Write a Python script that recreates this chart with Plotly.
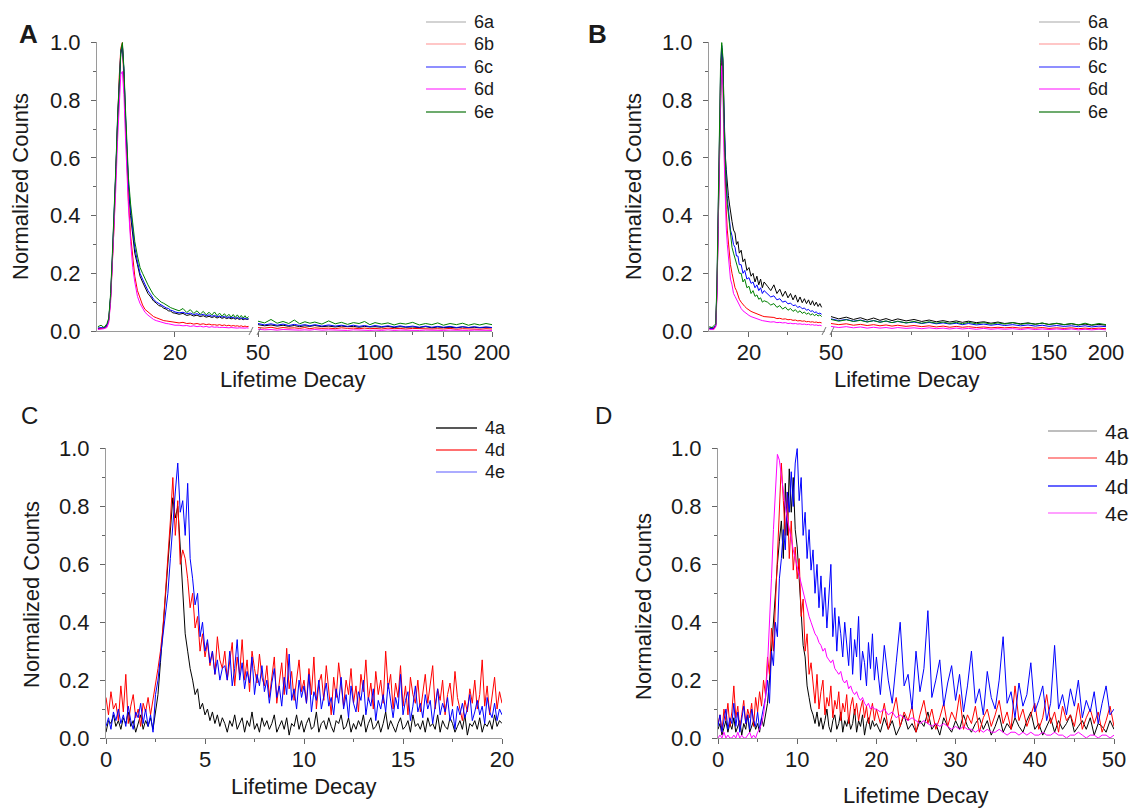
import numpy as np
import plotly.graph_objects as go

# ---------------- panel A / B (6a-6e), split log x axis ----------------
series6 = ['6a', '6b', '6c', '6d', '6e']

xa_left = [8, 8.3, 8.6, 8.9, 9.1, 9.3, 9.5, 9.7, 9.9, 10.1, 10.3, 10.5, 10.7, 10.9, 11.1, 11.3, 11.5, 11.8,
           12.1, 12.4, 12.8, 13.2, 13.6, 14, 14.5, 15, 15.5, 16, 16.5, 17, 17.5, 18, 18.5, 19, 19.5, 20,
           21, 22, 23, 24, 25, 26, 27, 28, 29, 30, 31, 32, 33, 34, 35, 36, 37, 38, 39, 40, 41, 42, 43, 44,
           45, 46, 47, 48]
x_right = [50, 52, 54, 56, 58, 60, 62, 64, 66, 68, 70, 73, 76, 79, 82, 85, 88, 91, 94, 97, 100, 104, 108,
           112, 116, 120, 125, 130, 135, 140, 145, 150, 156, 162, 168, 174, 180, 186, 193, 200]

a_6a_left = [0.01, 0.008, 0.012, 0.02, 0.04, 0.12, 0.25, 0.38, 0.55, 0.72, 0.87, 0.96, 0.99, 0.9, 0.74, 0.6, 0.5, 0.4,
             0.33, 0.27, 0.23, 0.19, 0.17, 0.15, 0.13, 0.118, 0.104, 0.097, 0.088, 0.086, 0.079, 0.076, 0.07, 0.069, 0.063, 0.062,
             0.058, 0.061, 0.054, 0.057, 0.052, 0.055, 0.05, 0.053, 0.048, 0.051, 0.047, 0.05, 0.045, 0.049, 0.044, 0.047,
             0.043, 0.046, 0.042, 0.045, 0.041, 0.044, 0.04, 0.043, 0.039, 0.042, 0.04, 0.041]
a_6b_left = [0.008, 0.01, 0.01, 0.015, 0.035, 0.11, 0.24, 0.37, 0.55, 0.73, 0.88, 0.98, 1.0, 0.86, 0.7, 0.56, 0.45, 0.33,
             0.25, 0.19, 0.14, 0.11, 0.09, 0.075, 0.066, 0.055, 0.05, 0.046, 0.042, 0.04, 0.036, 0.035, 0.034, 0.031, 0.032, 0.03,
             0.028, 0.03, 0.026, 0.027, 0.024, 0.026, 0.023, 0.025, 0.022, 0.024, 0.021, 0.022, 0.02, 0.022, 0.019, 0.021,
             0.018, 0.02, 0.017, 0.019, 0.017, 0.018, 0.016, 0.018, 0.015, 0.017, 0.015, 0.016]
a_6c_left = [0.01, 0.012, 0.01, 0.018, 0.04, 0.12, 0.26, 0.39, 0.56, 0.73, 0.88, 0.97, 0.99, 0.9, 0.75, 0.62, 0.51, 0.42,
             0.35, 0.29, 0.24, 0.2, 0.18, 0.16, 0.14, 0.126, 0.11, 0.101, 0.095, 0.09, 0.086, 0.08, 0.078, 0.072, 0.07, 0.066,
             0.063, 0.065, 0.06, 0.062, 0.057, 0.06, 0.055, 0.058, 0.053, 0.056, 0.051, 0.054, 0.05, 0.052, 0.048, 0.051,
             0.047, 0.049, 0.046, 0.048, 0.044, 0.047, 0.043, 0.046, 0.042, 0.045, 0.041, 0.043]
a_6d_left = [0.005, 0.006, 0.008, 0.012, 0.03, 0.1, 0.22, 0.35, 0.5, 0.66, 0.8, 0.89, 0.9, 0.82, 0.67, 0.54, 0.43, 0.31,
             0.22, 0.17, 0.12, 0.095, 0.08, 0.065, 0.055, 0.046, 0.04, 0.036, 0.033, 0.03, 0.028, 0.026, 0.025, 0.023, 0.022, 0.02,
             0.02, 0.018, 0.019, 0.016, 0.018, 0.015, 0.017, 0.014, 0.016, 0.013, 0.015, 0.013, 0.014, 0.012, 0.013, 0.012,
             0.013, 0.011, 0.012, 0.011, 0.012, 0.01, 0.011, 0.01, 0.011, 0.01, 0.011, 0.01]
a_6e_left = [0.015, 0.02, 0.012, 0.025, 0.045, 0.13, 0.27, 0.4, 0.57, 0.74, 0.89, 0.97, 1.0, 0.91, 0.77, 0.64, 0.53, 0.44,
             0.36, 0.31, 0.26, 0.22, 0.2, 0.18, 0.16, 0.142, 0.125, 0.116, 0.106, 0.1, 0.096, 0.09, 0.086, 0.081, 0.078, 0.075,
             0.07, 0.078, 0.064, 0.074, 0.061, 0.07, 0.058, 0.068, 0.056, 0.065, 0.055, 0.066, 0.053, 0.062, 0.051, 0.06,
             0.05, 0.058, 0.048, 0.057, 0.047, 0.056, 0.046, 0.054, 0.045, 0.053, 0.044, 0.05]

a_6a_right = [0.022, 0.018, 0.021, 0.017, 0.02, 0.016, 0.019, 0.015, 0.018, 0.016, 0.019, 0.015, 0.017, 0.014, 0.017,
              0.015, 0.016, 0.013, 0.016, 0.014, 0.015, 0.013, 0.016, 0.012, 0.015, 0.013, 0.014, 0.012, 0.015, 0.011,
              0.014, 0.012, 0.013, 0.011, 0.014, 0.012, 0.013, 0.011, 0.013, 0.012]
a_6b_right = [0.012, 0.01, 0.013, 0.009, 0.012, 0.01, 0.011, 0.009, 0.012, 0.008, 0.011, 0.009, 0.01, 0.008, 0.011,
              0.009, 0.01, 0.008, 0.01, 0.008, 0.009, 0.007, 0.01, 0.008, 0.009, 0.007, 0.009, 0.008, 0.009, 0.007,
              0.008, 0.007, 0.009, 0.006, 0.008, 0.007, 0.008, 0.006, 0.008, 0.007]
a_6c_right = [0.026, 0.021, 0.025, 0.02, 0.024, 0.019, 0.023, 0.019, 0.022, 0.018, 0.022, 0.017, 0.021, 0.017, 0.02,
              0.016, 0.02, 0.016, 0.019, 0.015, 0.019, 0.015, 0.018, 0.014, 0.018, 0.014, 0.017, 0.013, 0.017, 0.013,
              0.016, 0.013, 0.016, 0.012, 0.015, 0.012, 0.015, 0.012, 0.014, 0.012]
a_6d_right = [0.006, 0.004, 0.005, 0.003, 0.005, 0.004, 0.005, 0.003, 0.004, 0.003, 0.005, 0.003, 0.004, 0.003, 0.004,
              0.002, 0.004, 0.003, 0.004, 0.002, 0.003, 0.002, 0.004, 0.002, 0.003, 0.002, 0.003, 0.002, 0.003, 0.002,
              0.003, 0.002, 0.003, 0.002, 0.003, 0.002, 0.003, 0.002, 0.003, 0.002]
a_6e_right = [0.034, 0.028, 0.04, 0.027, 0.033, 0.026, 0.038, 0.025, 0.032, 0.027, 0.031, 0.024, 0.035, 0.025, 0.03,
              0.023, 0.029, 0.026, 0.033, 0.022, 0.029, 0.024, 0.028, 0.021, 0.027, 0.024, 0.03, 0.021, 0.026, 0.022,
              0.028, 0.02, 0.026, 0.022, 0.027, 0.02, 0.025, 0.021, 0.026, 0.022]

xb_left = [12.4, 12.8, 13.1, 13.4, 13.6, 13.8, 14.0, 14.2, 14.4, 14.6, 14.8, 15.0, 15.2, 15.4, 15.6, 15.8, 16.0,
           16.3, 16.6, 16.9, 17.2, 17.5, 17.8, 18.2, 18.6, 19.0, 19.5, 20, 20.5, 21, 21.5, 22, 22.5, 23, 23.5, 24,
           25, 26, 27, 28, 29, 30, 31, 32, 33, 34, 35, 36, 37, 38, 39, 40, 41, 42, 43, 44, 45, 46, 47, 48]

b_6a_left = [0.01, 0.012, 0.008, 0.02, 0.15, 0.4, 0.65, 0.88, 0.98, 0.94, 0.76, 0.62, 0.56, 0.5, 0.47, 0.44, 0.41,
             0.38, 0.35, 0.34, 0.3, 0.31, 0.27, 0.28, 0.24, 0.25, 0.21, 0.22, 0.19, 0.2, 0.17, 0.19, 0.16, 0.18, 0.15, 0.17,
             0.155, 0.14, 0.16, 0.13, 0.145, 0.12, 0.138, 0.115, 0.13, 0.108, 0.125, 0.1, 0.118, 0.098, 0.112, 0.095,
             0.108, 0.09, 0.105, 0.088, 0.1, 0.085, 0.095, 0.082]
b_6b_left = [0.008, 0.01, 0.008, 0.02, 0.14, 0.4, 0.66, 0.88, 0.97, 0.9, 0.68, 0.52, 0.42, 0.35, 0.3, 0.26, 0.23,
             0.2, 0.17, 0.15, 0.14, 0.12, 0.11, 0.1, 0.09, 0.085, 0.078, 0.072, 0.068, 0.065, 0.062, 0.058, 0.056, 0.054, 0.052, 0.05,
             0.049, 0.046, 0.047, 0.043, 0.044, 0.041, 0.042, 0.039, 0.04, 0.037, 0.038, 0.035, 0.036, 0.034, 0.035, 0.032,
             0.033, 0.031, 0.032, 0.03, 0.031, 0.029, 0.03, 0.028]
b_6c_left = [0.01, 0.008, 0.012, 0.02, 0.16, 0.42, 0.68, 0.9, 0.99, 0.93, 0.74, 0.6, 0.52, 0.46, 0.42, 0.38, 0.35,
             0.33, 0.3, 0.29, 0.26, 0.26, 0.23, 0.23, 0.2, 0.21, 0.18, 0.185, 0.165, 0.17, 0.15, 0.16, 0.14, 0.15, 0.13, 0.14,
             0.13, 0.118, 0.122, 0.108, 0.112, 0.1, 0.104, 0.094, 0.097, 0.088, 0.09, 0.082, 0.085, 0.077, 0.08, 0.072,
             0.075, 0.068, 0.07, 0.064, 0.066, 0.06, 0.062, 0.058]
b_6d_left = [0.005, 0.006, 0.005, 0.015, 0.12, 0.36, 0.6, 0.82, 0.92, 0.85, 0.62, 0.46, 0.36, 0.3, 0.25, 0.21, 0.18,
             0.16, 0.13, 0.12, 0.11, 0.095, 0.085, 0.078, 0.07, 0.065, 0.058, 0.054, 0.05, 0.047, 0.044, 0.042, 0.04, 0.038, 0.036, 0.035,
             0.034, 0.031, 0.032, 0.029, 0.03, 0.028, 0.029, 0.026, 0.027, 0.025, 0.026, 0.024, 0.025, 0.023, 0.024, 0.022,
             0.023, 0.021, 0.022, 0.02, 0.021, 0.019, 0.02, 0.018]
b_6e_left = [0.015, 0.012, 0.018, 0.025, 0.18, 0.45, 0.72, 0.93, 1.0, 0.95, 0.72, 0.58, 0.5, 0.44, 0.4, 0.36, 0.32,
             0.29, 0.27, 0.25, 0.23, 0.22, 0.2, 0.2, 0.17, 0.18, 0.15, 0.155, 0.13, 0.14, 0.12, 0.125, 0.11, 0.115, 0.1, 0.105,
             0.1, 0.09, 0.095, 0.082, 0.088, 0.076, 0.083, 0.072, 0.078, 0.068, 0.074, 0.064, 0.07, 0.061, 0.066, 0.058,
             0.063, 0.055, 0.06, 0.053, 0.058, 0.052, 0.056, 0.05]

b_6a_right = [0.05, 0.042, 0.048, 0.04, 0.046, 0.038, 0.045, 0.037, 0.043, 0.036, 0.042, 0.035, 0.04, 0.033, 0.038,
              0.032, 0.036, 0.031, 0.035, 0.03, 0.034, 0.029, 0.032, 0.027, 0.031, 0.026, 0.029, 0.025, 0.028, 0.024,
              0.027, 0.023, 0.026, 0.022, 0.025, 0.021, 0.024, 0.02, 0.023, 0.02]
b_6b_right = [0.026, 0.022, 0.025, 0.02, 0.023, 0.019, 0.022, 0.018, 0.021, 0.017, 0.02, 0.016, 0.019, 0.015, 0.018,
              0.014, 0.017, 0.013, 0.016, 0.013, 0.015, 0.012, 0.014, 0.011, 0.013, 0.011, 0.013, 0.01, 0.012, 0.01,
              0.012, 0.009, 0.011, 0.009, 0.011, 0.008, 0.01, 0.008, 0.01, 0.008]
b_6c_right = [0.042, 0.036, 0.04, 0.034, 0.038, 0.032, 0.036, 0.031, 0.034, 0.029, 0.033, 0.028, 0.031, 0.026, 0.03,
              0.025, 0.028, 0.024, 0.027, 0.022, 0.026, 0.021, 0.024, 0.02, 0.023, 0.019, 0.022, 0.018, 0.021, 0.017,
              0.02, 0.016, 0.019, 0.016, 0.018, 0.015, 0.018, 0.014, 0.017, 0.015]
b_6d_right = [0.016, 0.012, 0.015, 0.011, 0.014, 0.01, 0.013, 0.01, 0.012, 0.009, 0.012, 0.009, 0.011, 0.008, 0.011,
              0.008, 0.01, 0.007, 0.01, 0.007, 0.009, 0.006, 0.009, 0.006, 0.008, 0.006, 0.008, 0.005, 0.008, 0.005,
              0.007, 0.005, 0.007, 0.005, 0.007, 0.004, 0.006, 0.004, 0.006, 0.004]
b_6e_right = [0.04, 0.034, 0.039, 0.033, 0.037, 0.031, 0.036, 0.03, 0.035, 0.029, 0.034, 0.028, 0.033, 0.027, 0.032,
              0.027, 0.031, 0.026, 0.03, 0.025, 0.03, 0.025, 0.029, 0.024, 0.028, 0.024, 0.029, 0.023, 0.027, 0.023,
              0.028, 0.022, 0.027, 0.022, 0.026, 0.021, 0.027, 0.021, 0.026, 0.022]

# ---------------- panel C (4a, 4d, 4e) ----------------
t_c = np.round(np.arange(0, 20.0001, 0.125), 3)

c_4a = [0.02, 0.06, 0.05, 0.08, 0.04, 0.06, 0.03, 0.07, 0.05, 0.09, 0.04, 0.06, 0.02, 0.05, 0.08, 0.03, 0.06, 0.04, 0.07, 0.03,
        0.1, 0.15, 0.26, 0.38, 0.5, 0.62, 0.72, 0.83, 0.76, 0.8, 0.66, 0.52,
        0.36, 0.3, 0.24, 0.2, 0.15, 0.17, 0.1, 0.12, 0.08, 0.1, 0.06, 0.09, 0.05, 0.08, 0.04, 0.07,
        0.05, 0.02, 0.06, 0.04, 0.08, 0.03, 0.05, 0.07, 0.02, 0.06, 0.04, 0.09, 0.03, 0.05, 0.02, 0.07, 0.04, 0.06, 0.03, 0.05,
        0.08, 0.02, 0.04, 0.06, 0.03, 0.07, 0.01, 0.05, 0.04, 0.08, 0.03, 0.06, 0.02, 0.05, 0.07, 0.03, 0.04, 0.09, 0.02, 0.05,
        0.06, 0.03, 0.07, 0.04, 0.02, 0.06, 0.05, 0.08, 0.03, 0.04, 0.07, 0.02, 0.05, 0.03, 0.06, 0.04, 0.08, 0.02, 0.05, 0.07,
        0.03, 0.04, 0.06, 0.02, 0.05, 0.09, 0.03, 0.06, 0.04, 0.02, 0.05, 0.07, 0.03, 0.04, 0.06, 0.02, 0.08, 0.04, 0.05, 0.03,
        0.06, 0.02, 0.07, 0.04, 0.05, 0.03, 0.08, 0.02, 0.06, 0.04, 0.03, 0.07, 0.05, 0.02, 0.04, 0.06, 0.03, 0.08, 0.01, 0.05,
        0.04, 0.06, 0.03, 0.07, 0.02, 0.05, 0.04, 0.06, 0.03, 0.08, 0.04, 0.06, 0.05]
c_4d = [0.14, 0.08, 0.16, 0.1, 0.12, 0.06, 0.18, 0.09, 0.22, 0.05, 0.11, 0.15, 0.07, 0.1, 0.04, 0.12, 0.09, 0.14, 0.08, 0.13,
        0.18, 0.24, 0.3, 0.38, 0.5, 0.62, 0.75, 0.9, 0.7, 0.82, 0.6, 0.65,
        0.62, 0.55, 0.45, 0.5, 0.38, 0.42, 0.3, 0.36, 0.28, 0.33, 0.25, 0.3, 0.22, 0.35, 0.27, 0.24,
        0.3, 0.2, 0.26, 0.33, 0.18, 0.28, 0.22, 0.34, 0.2, 0.27, 0.16, 0.3, 0.24, 0.19, 0.29, 0.21,
        0.18, 0.25, 0.14, 0.22, 0.28, 0.12, 0.2, 0.26, 0.15, 0.31, 0.17, 0.23, 0.13, 0.21, 0.27, 0.16,
        0.2, 0.12, 0.24, 0.15, 0.28, 0.1, 0.19, 0.22, 0.13, 0.25, 0.17, 0.08, 0.21, 0.14, 0.26, 0.18,
        0.11, 0.2, 0.15, 0.24, 0.12, 0.18, 0.09, 0.22, 0.16, 0.27, 0.13, 0.19, 0.1, 0.23, 0.15, 0.2,
        0.12, 0.3, 0.17, 0.22, 0.1, 0.19, 0.14, 0.25, 0.11, 0.18, 0.08, 0.21, 0.15, 0.12, 0.2, 0.09,
        0.16, 0.22, 0.12, 0.18, 0.25, 0.1, 0.17, 0.13, 0.2, 0.08, 0.15, 0.19, 0.11, 0.23, 0.14, 0.1,
        0.06, 0.13, 0.09, 0.17, 0.12, 0.2, 0.1, 0.15, 0.27, 0.11, 0.18, 0.08, 0.14, 0.21, 0.1, 0.16, 0.12]
c_4e = [0.04, 0.07, 0.03, 0.09, 0.06, 0.1, 0.05, 0.08, 0.04, 0.11, 0.06, 0.03, 0.09, 0.07, 0.12, 0.05, 0.1, 0.04, 0.08, 0.02,
        0.15, 0.2, 0.28, 0.35, 0.42, 0.5, 0.62, 0.75, 0.85, 0.95, 0.78, 0.82,
        0.7, 0.88, 0.62, 0.55, 0.46, 0.5, 0.35, 0.4, 0.3, 0.34, 0.26, 0.3, 0.22, 0.27, 0.2, 0.24,
        0.25, 0.2, 0.3, 0.18, 0.24, 0.34, 0.2, 0.26, 0.17, 0.23, 0.19, 0.28, 0.15, 0.22, 0.18, 0.25,
        0.16, 0.2, 0.12, 0.19, 0.24, 0.14, 0.18, 0.11, 0.21, 0.15, 0.29, 0.13, 0.17, 0.1, 0.2, 0.14,
        0.18, 0.12, 0.22, 0.09, 0.16, 0.13, 0.2, 0.1, 0.15, 0.19, 0.11, 0.14, 0.08, 0.17, 0.12, 0.21,
        0.1, 0.15, 0.07, 0.18, 0.12, 0.09, 0.16, 0.13, 0.2, 0.08, 0.14, 0.11, 0.17, 0.06, 0.13, 0.1,
        0.15, 0.09, 0.19, 0.12, 0.07, 0.14, 0.1, 0.22, 0.08, 0.13, 0.16, 0.06, 0.11, 0.18, 0.09, 0.12,
        0.07, 0.15, 0.1, 0.13, 0.05, 0.11, 0.17, 0.08, 0.12, 0.09, 0.14, 0.06, 0.1, 0.03, 0.11, 0.08,
        0.12, 0.07, 0.1, 0.15, 0.06, 0.09, 0.13, 0.08, 0.11, 0.05, 0.14, 0.09, 0.07, 0.12, 0.06, 0.1, 0.08]

# ---------------- panel D (4a, 4b, 4d, 4e) ----------------
t_d = np.concatenate([np.arange(0, 20, 0.25), np.arange(20, 50.001, 0.5)])

d_4a = [0.03, 0.05, 0.01, 0.04, 0.06, 0.02, 0.05, 0.03, 0.07, 0.02, 0.04, 0.06, 0.01, 0.05, 0.03, 0.08, 0.02, 0.04, 0.06, 0.03,
        0.05, 0.02, 0.07, 0.04,
        0.08, 0.12, 0.2, 0.3, 0.42, 0.5, 0.6, 0.68, 0.75, 0.62, 0.88, 0.7, 0.93, 0.78, 0.9, 0.72, 0.66, 0.55, 0.45, 0.32,
        0.28, 0.18, 0.14, 0.1,
        0.08, 0.05, 0.09, 0.04, 0.07, 0.03, 0.06, 0.1, 0.04, 0.02, 0.06, 0.08, 0.03, 0.05, 0.09, 0.02, 0.06, 0.04, 0.07, 0.03,
        0.05, 0.1, 0.02, 0.06, 0.04, 0.08, 0.01, 0.05, 0.07, 0.03, 0.06, 0.04,
        0.05, 0.02, 0.07, 0.03, 0.06, 0.01, 0.04, 0.08, 0.03, 0.05, 0.02, 0.06, 0.04, 0.09, 0.03, 0.05, 0.01, 0.07, 0.04, 0.02,
        0.06, 0.03, 0.08, 0.04, 0.02, 0.05, 0.07, 0.03, 0.06, 0.01, 0.04, 0.08, 0.02, 0.05, 0.03, 0.07, 0.04, 0.02, 0.06, 0.09,
        0.03, 0.05, 0.01, 0.04, 0.07, 0.02, 0.06, 0.03, 0.05, 0.08, 0.02, 0.04, 0.06, 0.03, 0.07, 0.01, 0.05, 0.04, 0.02, 0.06,
        0.03]
d_4b = [0.05, 0.08, 0.02, 0.1, 0.06, 0.12, 0.04, 0.09, 0.18, 0.07, 0.11, 0.03, 0.08, 0.13, 0.05, 0.1, 0.07, 0.12, 0.04, 0.14,
        0.09, 0.16, 0.11, 0.2,
        0.15, 0.28, 0.22, 0.38, 0.3, 0.45, 0.6, 0.78, 0.95, 0.82, 0.7, 0.85, 0.62, 0.75, 0.58, 0.66, 0.55, 0.62, 0.42, 0.48,
        0.3, 0.36, 0.22, 0.26,
        0.18, 0.12, 0.22, 0.1, 0.16, 0.2, 0.08, 0.14, 0.11, 0.18, 0.07, 0.13, 0.1, 0.16, 0.06, 0.12, 0.09, 0.15, 0.05, 0.11,
        0.14, 0.08, 0.12, 0.06, 0.1, 0.13, 0.07, 0.11, 0.05, 0.09, 0.12, 0.06,
        0.1, 0.05, 0.12, 0.03, 0.08, 0.14, 0.04, 0.09, 0.06, 0.11, 0.02, 0.08, 0.13, 0.05, 0.1, 0.03, 0.07, 0.12, 0.04, 0.09,
        0.06, 0.15, 0.03, 0.08, 0.05, 0.11, 0.02, 0.07, 0.1, 0.04, 0.08, 0.13, 0.05, 0.09, 0.03, 0.18, 0.06, 0.1, 0.04, 0.08,
        0.12, 0.03, 0.07, 0.15, 0.05, 0.09, 0.02, 0.11, 0.06, 0.08, 0.04, 0.12, 0.03, 0.07, 0.1, 0.05, 0.09, 0.02, 0.06, 0.11,
        0.04]
d_4d = [0.04, 0.08, 0.02, 0.06, 0.1, 0.03, 0.07, 0.05, 0.12, 0.04, 0.09, 0.02, 0.06, 0.11, 0.05, 0.08, 0.03, 0.1, 0.06, 0.04,
        0.09, 0.03, 0.07, 0.1,
        0.14, 0.2, 0.12, 0.3, 0.25, 0.4, 0.35, 0.55, 0.62, 0.72, 0.65, 0.85, 0.78, 0.92, 0.8, 0.95, 1.0, 0.82, 0.9, 0.7,
        0.78, 0.62, 0.72, 0.58,
        0.65, 0.5, 0.6, 0.45, 0.56, 0.42, 0.52, 0.38, 0.48, 0.6, 0.35, 0.45, 0.3, 0.42, 0.36, 0.28, 0.4, 0.32, 0.25, 0.38,
        0.22, 0.34, 0.28, 0.42, 0.2, 0.3, 0.26, 0.18, 0.33, 0.24, 0.36, 0.2,
        0.28, 0.15, 0.32, 0.2, 0.12, 0.26, 0.4, 0.18, 0.22, 0.1, 0.3, 0.16, 0.24, 0.44, 0.14, 0.2, 0.27, 0.11, 0.19, 0.25,
        0.13, 0.22, 0.09, 0.18, 0.3, 0.12, 0.17, 0.08, 0.23, 0.14, 0.1, 0.2, 0.35, 0.12, 0.16, 0.07, 0.19, 0.11, 0.15, 0.26,
        0.09, 0.13, 0.18, 0.06, 0.12, 0.32, 0.1, 0.15, 0.08, 0.17, 0.11, 0.2, 0.07, 0.13, 0.09, 0.16, 0.05, 0.12, 0.18, 0.08,
        0.1]
d_4e = [0.0, 0.01, 0.0, 0.02, 0.0, 0.01, 0.0, 0.0, 0.01, 0.0, 0.02, 0.0, 0.01, 0.0, 0.0, 0.01, 0.02, 0.0, 0.01, 0.0,
        0.02, 0.03, 0.05, 0.08,
        0.14, 0.25, 0.38, 0.55, 0.72, 0.88, 0.98, 0.96, 0.9, 0.84, 0.8, 0.76, 0.72, 0.68, 0.65, 0.62, 0.59, 0.56, 0.53, 0.5,
        0.47, 0.45, 0.42, 0.4,
        0.38, 0.36, 0.35, 0.33, 0.32, 0.3, 0.31, 0.28, 0.27, 0.26, 0.27, 0.24, 0.23, 0.22, 0.23, 0.2, 0.19, 0.2, 0.17, 0.18,
        0.16, 0.15, 0.16, 0.14, 0.13, 0.14, 0.12, 0.11, 0.12, 0.1, 0.11, 0.1,
        0.1, 0.09, 0.1, 0.08, 0.09, 0.07, 0.08, 0.07, 0.06, 0.07, 0.06, 0.05, 0.06, 0.05, 0.04, 0.05, 0.04, 0.05, 0.04, 0.03,
        0.04, 0.03, 0.04, 0.03, 0.03, 0.02, 0.03, 0.02, 0.03, 0.02, 0.02, 0.03, 0.02, 0.01, 0.02, 0.02, 0.01, 0.02, 0.01, 0.02,
        0.01, 0.01, 0.02, 0.01, 0.01, 0.02, 0.01, 0.01, 0.0, 0.01, 0.01, 0.02, 0.01, 0.0, 0.01, 0.01, 0.0, 0.01, 0.01, 0.0,
        0.01]

# ---------------- styling ----------------
W, H = 1133, 808
FONT = 'Liberation Sans, Arial, sans-serif'
TXT = '#1a1a1a'
line_colors = {'black': '#000000', 'red': '#ff0000', 'blue': '#0000ff', 'magenta': '#ff00ff', 'green': '#008000'}


def px(x):
    return x / W


def py(y):
    return 1 - y / H


fig = go.Figure()


def add(x, y, color, xa, ya):
    fig.add_trace(go.Scatter(x=x, y=y, mode='lines', line=dict(color=color, width=1),
                             xaxis=xa, yaxis=ya, showlegend=False, hoverinfo='skip'))


cols6 = ['black', 'red', 'blue', 'magenta', 'green']
for ys, c in zip([a_6a_left, a_6b_left, a_6c_left, a_6d_left, a_6e_left], cols6):
    add(xa_left, ys, line_colors[c], 'x', 'y')
for ys, c in zip([a_6a_right, a_6b_right, a_6c_right, a_6d_right, a_6e_right], cols6):
    add(x_right, ys, line_colors[c], 'x2', 'y')
for ys, c in zip([b_6a_left, b_6b_left, b_6c_left, b_6d_left, b_6e_left], cols6):
    add(xb_left, ys, line_colors[c], 'x3', 'y2')
for ys, c in zip([b_6a_right, b_6b_right, b_6c_right, b_6d_right, b_6e_right], cols6):
    add(x_right, ys, line_colors[c], 'x4', 'y2')

for ys, c in zip([c_4a, c_4d, c_4e], ['black', 'red', 'blue']):
    add(t_c, ys, line_colors[c], 'x5', 'y3')
for ys, c in zip([d_4a, d_4b, d_4d, d_4e], ['black', 'red', 'blue', 'magenta']):
    add(t_d, ys, line_colors[c], 'x6', 'y4')

axis_common = dict(showline=True, linecolor='#9a9a9a', linewidth=1, ticks='outside', ticklen=5,
                   tickwidth=1, tickcolor='#666', showgrid=False, zeroline=False, automargin=False,
                   tickfont=dict(family=FONT, size=22, color=TXT), ticklabelstandoff=6)
x_common = dict(axis_common, ticklabelstandoff=-3)
minor_common = dict(ticks='outside', ticklen=3, tickwidth=1, tickcolor='#666', showgrid=False)

yticks = [0, 0.2, 0.4, 0.6, 0.8, 1.0]
yaxis_style = dict(axis_common, range=[0, 1.002], tickmode='array', tickvals=yticks,
                   ticktext=['%.1f' % v for v in yticks],
                   minor=dict(minor_common, tickmode='array', tickvals=[0.1, 0.3, 0.5, 0.7, 0.9]))

top_dom = [py(331), py(42)]
bot_dom = [py(738), py(448)]

right_ticks = dict(tickmode='array', tickvals=[50, 100, 150, 200], ticktext=['50', '100', '150', '200'],
                   minor=dict(minor_common, tickmode='array', tickvals=[75, 125, 175]))

fig.update_layout(
    width=W, height=H, margin=dict(l=0, r=0, t=0, b=0, autoexpand=False),
    paper_bgcolor='white', plot_bgcolor='white',
    xaxis=dict(x_common, type='log', domain=[px(97), px(252)], anchor='y',
               range=[np.log10(7.91), np.log10(50)], tickmode='array', tickvals=[20], ticktext=['20']),
    xaxis2=dict(x_common, type='log', domain=[px(258), px(492)], anchor='y',
                range=[np.log10(50), np.log10(200)], **right_ticks),
    yaxis=dict(yaxis_style, domain=top_dom, anchor='x'),
    xaxis3=dict(x_common, type='log', domain=[px(709), px(825)], anchor='y2',
                range=[np.log10(12.35), np.log10(50)], tickmode='array', tickvals=[20], ticktext=['20'],
                minor=dict(minor_common, tickmode='array', tickvals=[32])),
    xaxis4=dict(x_common, type='log', domain=[px(831), px(1106)], anchor='y2',
                range=[np.log10(50), np.log10(200)], **right_ticks),
    yaxis2=dict(yaxis_style, domain=top_dom, anchor='x3'),
    xaxis5=dict(x_common, domain=[px(106), px(502)], anchor='y3', range=[0, 20],
                tickmode='array', tickvals=[0, 5, 10, 15, 20],
                minor=dict(minor_common, tickmode='array', tickvals=[2.5, 7.5, 12.5, 17.5])),
    yaxis3=dict(yaxis_style, domain=bot_dom, anchor='x5'),
    xaxis6=dict(x_common, domain=[px(718), px(1114)], anchor='y4', range=[0, 50],
                tickmode='array', tickvals=[0, 10, 20, 30, 40, 50],
                minor=dict(minor_common, tickmode='array', tickvals=[5, 15, 25, 35, 45])),
    yaxis4=dict(yaxis_style, domain=bot_dom, anchor='x6'),
)

annotations = []
shapes = []


def text(x, y, s, size, angle=0, bold=False, xanchor='center'):
    annotations.append(dict(x=px(x), y=py(y), xref='paper', yref='paper', text='<b>%s</b>' % s if bold else s,
                            showarrow=False, textangle=angle, xanchor=xanchor, yanchor='middle',
                            font=dict(family=FONT, size=size, color=TXT)))


# panel letters
text(28, 34, 'A', 26, bold=True)
text(597, 34, 'B', 26, bold=True)
text(29, 415, 'C', 24)
text(603, 415, 'D', 24)

# axis titles
for xx, yy in [(20, 187), (633, 187), (31, 595), (643, 607)]:
    text(xx, yy, 'Normalized Counts', 22, angle=-90)
for xx, yy in [(293, 379), (907, 379), (304, 786), (916, 795)]:
    text(xx, yy, 'Lifetime Decay', 22)


# legends (drawn by hand to keep the pale swatches of the original)
def legend(x0, x1, rows, items, size):
    for yy, (lab, col) in zip(rows, items):
        shapes.append(dict(type='line', xref='paper', yref='paper', x0=px(x0), x1=px(x1), y0=py(yy), y1=py(yy),
                           line=dict(color=col, width=1.5)))
        text(x1 + 6, yy, lab, size, xanchor='left')


leg6 = list(zip(series6, ['#c4c4c4', '#ffb4b4', '#6a6aff', '#ff5cff', '#3c8f3c']))
legend(426, 466, [22, 44, 67, 89, 112], leg6, 18)
legend(1039, 1080, [22, 44, 67, 89, 112], leg6, 18)
legend(436, 477, [428, 450, 472], list(zip(['4a', '4d', '4e'], ['#202020', '#ff4040', '#9090ff'])), 18)
legend(1048, 1097, [431, 458, 486, 513],
       list(zip(['4a', '4b', '4d', '4e'], ['#a8a8a8', '#ff7070', '#3030ff', '#ff80ff'])), 21)

# axis break marks "//"
for xa, ya, side in [('x', 'y', 1), ('x2', 'y', 0), ('x3', 'y2', 1), ('x4', 'y2', 0)]:
    off = -1 if side == 1 else 1
    shapes.append(dict(type='line', xref=xa + ' domain', yref=ya + ' domain', xsizemode='pixel', ysizemode='pixel',
                       xanchor=side, yanchor=0, x0=off - 2, x1=off + 2, y0=-4, y1=4,
                       line=dict(color='#777', width=1)))

fig.update_layout(annotations=annotations, shapes=shapes)

fig.write_html("out.html", config={'displayModeBar': False},
               post_script="document.body.style.margin='0';document.body.style.overflow='hidden';")
